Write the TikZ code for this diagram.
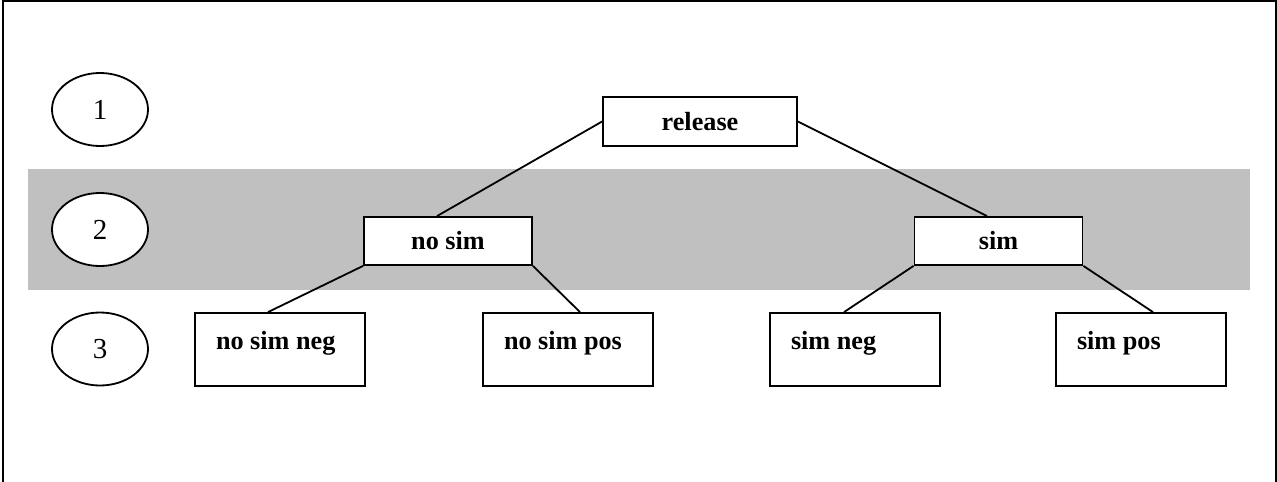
\documentclass[tikz,border=0pt]{standalone}
\usepackage{fontspec}
\setmainfont{Liberation Serif}
\usetikzlibrary{shapes.geometric}
\definecolor{bandgray}{RGB}{192,192,192}
\tikzstyle{lvl}=[draw, ellipse, fill=white, line width=0.9pt, minimum width=48pt, minimum height=36.5pt, inner sep=0pt, font=\fontsize{14.5}{17}\selectfont]
\tikzstyle{int}=[draw, fill=white, line width=0.9pt, inner sep=0pt, font=\fontsize{13.1}{15.7}\selectfont\bfseries]
\tikzstyle{leaf}=[int, text width=64pt, inner xsep=10.5pt, align=flush left, text height=10pt, text depth=10pt, minimum height=36.5pt]

\begin{document}
\begin{tikzpicture}[x=0.5pt,y=-0.5pt,line width=0.9pt]
      \useasboundingbox (0,0) rectangle (1277,481);
      \fill[bandgray] (28,169) rectangle (1250,290);
      \draw[line width=1pt] (3,490) -- (3,1.5) -- (1275.5,1.5) -- (1275.5,490);
      % levels
      \node [lvl] (l1) at (100,109.5) {1};
      \node [lvl] (l2) at (100,229.5) {2};
      \node [lvl] (l3) at (100,349) {3};
      % tree
      \node [int, minimum width=97pt, minimum height=24.5pt] (rel) at (700,121.5) {release};
      \node [int, minimum width=84pt, minimum height=24pt] (nosim) at (448,241) {no sim};
      \node [int, minimum width=84pt, minimum height=24pt] (sim) at (998.5,241) {sim};
      \node [leaf] (nsneg) at (280,349.5) {no sim neg};
      \node [leaf] (nspos) at (568,349.5) {no sim pos};
      \node [leaf] (sneg) at (855,349.5) {sim neg};
      \node [leaf] (spos) at (1141,349.5) {sim pos};
      \path (rel.west) edge ([xshift=-5.5pt]nosim.north);
      \path (rel.east) edge ([xshift=-5.75pt]sim.north);
      \path (nosim.south west) edge ([xshift=-6pt]nsneg.north);
      \path (nosim.south east) edge ([xshift=6pt]nspos.north);
      \path (sim.south west) edge ([xshift=-5.5pt]sneg.north);
      \path (sim.south east) edge ([xshift=6pt]spos.north);
  \end{tikzpicture}
\end{document}
